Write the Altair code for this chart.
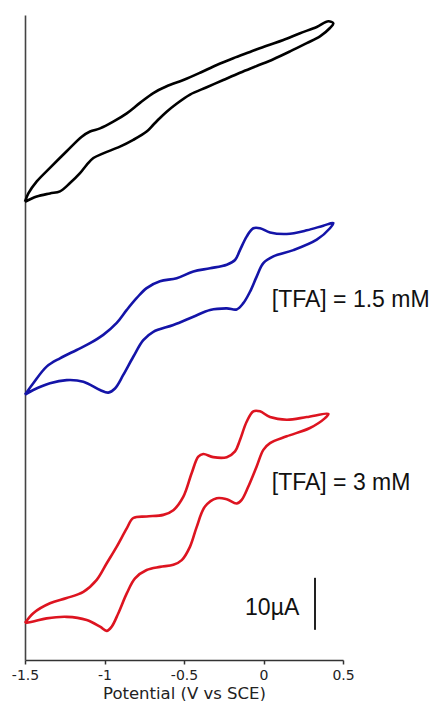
import altair as alt
import pandas as pd

# ---- data (potential in V vs SCE, current in uA with vertical offsets) ----
black_x = [-1.5, -1.479, -1.426, -1.343, -1.238, -1.143, -1.091, -1.028, -0.945, -0.86, -0.777, -0.693,
           -0.609, -0.504, -0.399, -0.294, -0.19, -0.085, 0.02, 0.125, 0.23, 0.335, 0.408, 0.439,
           0.418, 0.355, 0.272, 0.167, 0.062, -0.043, -0.148, -0.253, -0.357, -0.462, -0.557, -0.609,
           -0.651, -0.693, -0.735, -0.819, -0.903, -1.008, -1.07, -1.112, -1.154, -1.217, -1.28, -1.343,
           -1.426, -1.5]
black_y = [88.1, 89.7, 92.0, 94.6, 97.8, 100.6, 101.6, 102.2, 103.5, 105.1, 107.1, 109.0,
           110.3, 111.5, 112.9, 114.4, 115.7, 116.9, 118.1, 119.2, 120.5, 121.7, 122.8, 122.4,
           121.5, 119.9, 118.6, 117.0, 115.5, 114.2, 112.9, 111.5, 110.1, 108.7, 106.7, 105.4,
           104.2, 102.9, 101.6, 100.0, 98.7, 97.4, 96.5, 95.2, 93.6, 91.7, 90.1, 89.7,
           89.1, 88.1]

blue_x = [-1.5, -1.448, -1.364, -1.28, -1.175, -1.091, -1.008, -0.923, -0.86, -0.797, -0.735, -0.651,
          -0.546, -0.441, -0.336, -0.231, -0.179, -0.148, -0.106, -0.064, -0.022, 0.041, 0.146, 0.272,
          0.376, 0.439,
          0.418, 0.335, 0.188, 0.062, -0.001, -0.043, -0.085, -0.127, -0.169, -0.231, -0.336, -0.441,
          -0.567, -0.693, -0.756, -0.819, -0.882, -0.934, -0.976, -1.028, -1.133, -1.238, -1.343,
          -1.448, -1.5]
blue_y = [51.0, 53.2, 56.4, 58.0, 59.6, 60.9, 62.5, 64.8, 67.3, 69.6, 71.5, 72.8,
          73.4, 74.7, 75.3, 76.0, 76.9, 78.8, 81.4, 83.0, 83.0, 82.2, 81.9, 82.6,
          83.5, 84.0,
          83.0, 80.8, 78.8, 77.6, 76.3, 73.7, 70.8, 68.6, 67.4, 67.6, 67.3, 66.0,
          64.4, 63.1, 61.5, 58.3, 54.8, 52.2, 51.4, 51.9, 53.5, 53.8, 53.2,
          51.9, 51.0]

red_x = [-1.5, -1.448, -1.343, -1.238, -1.133, -1.049, -0.986, -0.923, -0.86, -0.819, -0.735, -0.63,
         -0.567, -0.504, -0.452, -0.41, -0.379, -0.316, -0.231, -0.179, -0.148, -0.106, -0.064, -0.022,
         0.041, 0.146, 0.272, 0.408,
         0.387, 0.292, 0.146, 0.041, -0.001, -0.043, -0.096, -0.137, -0.169, -0.231, -0.294, -0.368,
         -0.42, -0.462, -0.514, -0.567, -0.651, -0.735, -0.808, -0.86, -0.913, -0.955, -0.986, -1.028,
         -1.112, -1.238, -1.364, -1.448, -1.5]
red_y = [7.1, 9.0, 10.9, 11.9, 13.1, 15.4, 18.6, 21.8, 25.3, 27.3, 27.6, 27.9,
         28.8, 31.4, 35.9, 39.1, 39.6, 39.0, 39.0, 40.1, 42.3, 45.8, 47.8, 47.8,
         46.7, 46.2, 46.7, 47.3,
         46.5, 44.6, 43.0, 41.7, 40.4, 37.2, 33.3, 30.8, 30.1, 30.9, 31.1, 29.5,
         25.6, 21.8, 19.2, 18.3, 17.9, 17.3, 15.7, 12.8, 9.0, 6.4, 5.6, 6.4,
         7.7, 8.3, 8.0, 7.4, 7.1]

series_names = ["blank", "TFA 1.5 mM", "TFA 3 mM"]
series_colors = ["#000000", "#1414a8", "#dd1420"]

label_texts = ["[TFA] = 1.5 mM", "[TFA] = 3 mM", "10µA"]
label_x = [0.052, 0.052, -0.116]
label_y = [67.8, 32.7, 8.65]

scalebar_x = [0.324]
scalebar_y = [5.8]
scalebar_y2 = [15.8]

x_ticks = [-1.5, -1.25, -1.0, -0.75, -0.5, -0.25, 0.0, 0.25, 0.5]

# ---- build table ----
rows = []
for name, xs, ys in zip(series_names, [black_x, blue_x, red_x], [black_y, blue_y, red_y]):
    for i, (xv, yv) in enumerate(zip(xs, ys)):
        rows.append({"series": name, "i": i, "E": xv, "I": yv})
df = pd.DataFrame(rows)

labels_df = pd.DataFrame({"x": label_x, "y": label_y, "text": label_texts})
bar_df = pd.DataFrame({"x": scalebar_x, "y": scalebar_y, "y2": scalebar_y2})

xscale = alt.Scale(domain=[-1.5, 0.5], nice=False, zero=False)
yscale = alt.Scale(domain=[0, 124], nice=False, zero=False)

lines = alt.Chart(df).mark_line(strokeWidth=2.6, interpolate="catmull-rom").encode(
    x=alt.X("E:Q", scale=xscale,
            axis=alt.Axis(values=x_ticks, title="Potential (V vs SCE)",
                          labelExpr="abs(datum.value*2 - round(datum.value*2)) < 0.001 ? toString(datum.value) : ''",
                          grid=False, tickSize=4, tickColor="#333333", tickWidth=1.5,
                          domainColor="#333333", domainWidth=1.6,
                          labelFont="DejaVu Sans", labelFontSize=14, labelColor="#222222",
                          labelPadding=4, labelFlush=False,
                          titleFont="DejaVu Sans", titleFontSize=16.5, titleFontWeight="normal",
                          titleColor="#222222", titlePadding=3)),
    y=alt.Y("I:Q", scale=yscale,
            axis=alt.Axis(title=None, labels=False, ticks=False, grid=False,
                          domainColor="#444444", domainWidth=1.6)),
    color=alt.Color("series:N", scale=alt.Scale(domain=series_names, range=series_colors), legend=None),
    order="i:Q",
    detail="series:N",
)

texts = alt.Chart(labels_df).mark_text(align="left", baseline="alphabetic",
                                       font="Liberation Sans", fontSize=23, color="#111111").encode(
    x=alt.X("x:Q", scale=xscale),
    y=alt.Y("y:Q", scale=yscale),
    text="text:N",
)

bar = alt.Chart(bar_df).mark_rule(strokeWidth=2, color="#222222").encode(
    x=alt.X("x:Q", scale=xscale),
    y=alt.Y("y:Q", scale=yscale),
    y2="y2:Q",
)

chart = alt.layer(lines, texts, bar).properties(
    width=318, height=645,
    autosize=alt.AutoSizeParams(type="none"),
    padding={"left": 25, "top": 15, "right": 95, "bottom": 41},
    background="white",
).configure_view(strokeOpacity=0)

chart.save("out.html", embed_options={"renderer": "svg", "actions": False})
